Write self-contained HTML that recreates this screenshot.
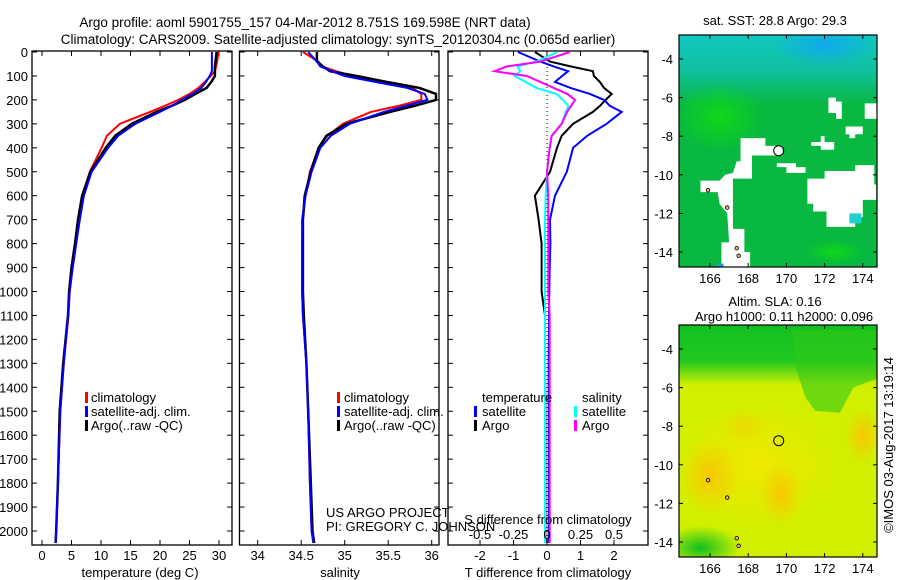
<!DOCTYPE html>
<html><head><meta charset="utf-8">
<style>
html,body{margin:0;padding:0;background:#fff;}
svg{display:block;font-family:"Liberation Sans",sans-serif;}
</style></head>
<body>
<svg id="chart" width="900" height="580" viewBox="0 0 900 580" xmlns="http://www.w3.org/2000/svg">
<defs>
<radialGradient id="g1" cx="50%" cy="50%" r="50%"><stop offset="0" stop-color="#10d818"/><stop offset="1" stop-color="#10d818" stop-opacity="0"/></radialGradient>
<radialGradient id="g2" cx="50%" cy="50%" r="50%"><stop offset="0" stop-color="#10a8f0"/><stop offset="1" stop-color="#10a8f0" stop-opacity="0"/></radialGradient>
<radialGradient id="o1" cx="50%" cy="50%" r="50%"><stop offset="0" stop-color="#f8c800"/><stop offset="1" stop-color="#f8c800" stop-opacity="0"/></radialGradient>
<radialGradient id="y1" cx="50%" cy="50%" r="50%"><stop offset="0" stop-color="#f0e800"/><stop offset="1" stop-color="#f0e800" stop-opacity="0"/></radialGradient>
<radialGradient id="gr2" cx="50%" cy="50%" r="50%"><stop offset="0" stop-color="#10c020"/><stop offset="1" stop-color="#10c020" stop-opacity="0"/></radialGradient>
<linearGradient id="topcyan" x1="0" y1="0" x2="0" y2="1"><stop offset="0" stop-color="#10c8c0"/><stop offset="0.5" stop-color="#10c0a0"/><stop offset="1" stop-color="#10c0a0" stop-opacity="0"/></linearGradient>
<linearGradient id="topgreen" x1="0" y1="0" x2="0" y2="1"><stop offset="0" stop-color="#10c020"/><stop offset="0.6" stop-color="#20c820"/><stop offset="1" stop-color="#20c820" stop-opacity="0"/></linearGradient>
</defs>
<text x="305" y="27" font-size="13.5" text-anchor="middle">Argo profile: aoml 5901755_157 04-Mar-2012 8.751S 169.598E (NRT data)</text>
<text x="338" y="44" font-size="13.5" text-anchor="middle">Climatology: CARS2009. Satellite-adjusted climatology: synTS_20120304.nc (0.065d earlier)</text>
<g id="panels"></g>
<g id="maps"></g>
<text x="326" y="517" font-size="13">US ARGO PROJECT</text>
<text x="326" y="531" font-size="13">PI: GREGORY C. JOHNSON</text>
<text transform="translate(893,445) rotate(-90)" font-size="13" text-anchor="middle">©IMOS 03-Aug-2017 13:19:14</text>
</svg>
<script>
const depths      = [0,40,60,80,100,125,150,175,200,225,250,300,350,400,500,600,700,800,900,1000,1100,1300,1500,1800,2000,2050];
const tempClim    = [29.9,29.7,29.5,29.3,28.6,27.6,26.5,25.0,23.1,20.8,18.3,13.2,11.0,10.1,8.1,6.9,6.3,5.8,5.2,4.7,4.5,3.7,3.1,2.7,2.4,2.3];
const tempSat     = [28.8,28.8,28.8,28.8,28.4,27.8,27.0,25.5,23.7,22.0,20.0,15.8,12.9,11.2,8.4,7.1,6.4,5.8,5.2,4.7,4.4,3.7,3.1,2.7,2.4,2.3];
const tempArgo    = [29.6,29.4,29.3,29.3,29.3,28.7,27.9,26.0,24.2,22.0,19.4,15.2,12.4,10.8,8.2,6.8,6.1,5.6,5.0,4.6,4.4,3.6,3.0,2.7,2.4,2.3];
const salClim     = [34.52,34.70,34.74,34.90,35.08,35.42,35.78,35.88,35.88,35.62,35.30,34.98,34.80,34.70,34.60,34.55,34.52,34.51,34.51,34.51,34.52,34.56,34.58,34.60,34.62,34.64];
const salSat      = [34.58,34.68,34.72,34.85,35.00,35.35,35.72,35.92,35.95,35.70,35.45,35.06,34.84,34.72,34.62,34.55,34.51,34.51,34.51,34.51,34.52,34.56,34.58,34.60,34.62,34.64];
const salArgo     = [34.68,34.68,34.75,34.83,35.14,35.48,35.86,36.05,36.05,35.80,35.52,35.02,34.79,34.70,34.61,34.54,34.52,34.52,34.52,34.52,34.53,34.56,34.58,34.61,34.63,34.65];
const dTSat       = [-0.87,-0.2,0.2,0.63,0.45,0.24,0.7,1.28,1.7,1.88,2.23,1.78,1.2,0.78,0.59,0.24,0.09,0.1,0.08,0.07,0.06,0.05,0.05,0.05,0.05,0.05];
const dTArgo      = [-0.36,0.09,0.7,1.37,1.4,1.58,1.7,1.93,1.75,1.58,1.37,0.78,0.44,0.3,0.09,-0.36,-0.25,-0.16,-0.16,-0.16,-0.06,-0.06,-0.05,-0.05,-0.05,-0.05];
const dSArgo      = [0.17,-0.05,-0.3,-0.39,-0.15,-0.05,0.05,0.15,0.21,0.18,0.15,0.11,0.035,0.02,0.0,0.01,0.01,0.01,0.01,0.01,0.02,0.02,0.02,0.02,0.02,0.02];
const dSSat       = [0.08,-0.08,-0.22,-0.2,-0.24,-0.16,-0.08,0.07,0.12,0.16,0.14,0.11,0.035,0.02,0.0,-0.01,-0.015,-0.015,-0.015,-0.015,-0.015,-0.015,-0.015,-0.015,-0.015,-0.015];
const depthTicks  = [0,100,200,300,400,500,600,700,800,900,1000,1100,1200,1300,1400,1500,1600,1700,1800,1900,2000];
const tempTicks   = [0,5,10,15,20,25,30];
const salTicks    = [34,34.5,35,35.5,36];
const tdTicks     = [-2,-1,0,1,2];
const sdTicks     = [-0.5,-0.25,0,0.25,0.5];
const lonTicks    = [166,168,170,172,174];
const latTicks    = [-4,-6,-8,-10,-12,-14];
const argoLon = 169.598, argoLat = -8.751;

const NS='http://www.w3.org/2000/svg';
function mk(tag,attrs,parent){const e=document.createElementNS(NS,tag);for(const k in attrs)e.setAttribute(k,attrs[k]);parent.appendChild(e);return e;}
const P=document.getElementById('panels');
const yD=d=>52+d*0.2395;
const TOP=51,BOT=545;
const xT=t=>42+t*5.9;
const xS=s=>257.7+(s-34)*87;
const xTD=v=>547+33.5*v;
const xSD=v=>547+134*v;

function frame(x0,x1,name){
  const r=mk('rect',{x:x0,y:TOP,width:x1-x0,height:BOT-TOP,fill:'none',stroke:'#000','stroke-width':1.3},P);
  
  
  depthTicks.forEach(d=>{
    mk('line',{x1:x0,x2:x0+5,y1:yD(d),y2:yD(d),stroke:'#000'},P);
    mk('line',{x1:x1-5,x2:x1,y1:yD(d),y2:yD(d),stroke:'#000'},P);
  });
}
function xticks(vals,fx,labels,y,top){
  vals.forEach((v,i)=>{
    const x=fx(v);
    mk('line',{x1:x,x2:x,y1:BOT-5,y2:BOT,stroke:'#000'},P);
    if(top) mk('line',{x1:x,x2:x,y1:TOP,y2:TOP+5,stroke:'#000'},P);
    const t=mk('text',{x:x,y:y,'font-size':13,'text-anchor':'middle'},P);
    t.textContent=labels?labels[i]:v;
    
    
  });
}
function line(xs,fx,color,name,w){
  const pts=depths.map((d,i)=>fx(xs[i]).toFixed(1)+','+yD(d).toFixed(1)).join(' ');
  const l=mk('polyline',{points:pts,fill:'none',stroke:color,'stroke-width':w||2},P);
  
  
}
function label(x,y,txt,name,anchor){
  const t=mk('text',{x:x,y:y,'font-size':13,'text-anchor':anchor||'start'},P);
  t.textContent=txt;
  
  
  return t;
}
function legMark(x,y,color){mk('rect',{x:x,y:y-10,width:3,height:11,fill:color},P);}

frame(32,232,'temperature-panel');
depthTicks.forEach(d=>label(28,yD(d)+5,String(d),'depth-tick-label','end'));
xticks(tempTicks,xT,null,560,true);
label(140,577,'temperature (deg C)','temperature-axis-title','middle');
line(tempClim,xT,'#f00','temp-climatology-line');
line(tempArgo,xT,'#000','temp-argo-line',2.5);
line(tempSat,xT,'#00f','temp-satellite-line');
legMark(85,402,'#f00');label(91,402,'climatology','legend-climatology');
legMark(85,416,'#00f');label(91,416,'satellite-adj. clim.','legend-satellite');
legMark(85,430,'#000');label(91,430,'Argo(..raw -QC)','legend-argo');

frame(239.5,439,'salinity-panel');
xticks(salTicks,xS,null,560,true);
label(340,577,'salinity','salinity-axis-title','middle');
line(salClim,xS,'#f00','sal-climatology-line');
line(salArgo,xS,'#000','sal-argo-line',2.5);
line(salSat,xS,'#00f','sal-satellite-line');
legMark(337,402,'#f00');label(344,402,'climatology','legend-climatology');
legMark(337,416,'#00f');label(344,416,'satellite-adj. clim.','legend-satellite');
legMark(337,430,'#000');label(344,430,'Argo(..raw -QC)','legend-argo');

frame(448,648,'difference-panel');
sdTicks.forEach(v=>mk('line',{x1:xSD(v),x2:xSD(v),y1:TOP,y2:TOP+5,stroke:'#000'},P));
xticks(tdTicks,xTD,null,560,false);
mk('line',{x1:547,x2:547,y1:TOP,y2:BOT,stroke:'#000','stroke-dasharray':'1,3'},P);
line(dTArgo,xTD,'#000','tdiff-argo-line');
line(dTSat,xTD,'#00f','tdiff-satellite-line');
line(dSSat,xSD,'#0ff','sdiff-satellite-line');
line(dSArgo,xSD,'#f0f','sdiff-argo-line');
label(482,402,'temperature','legend-temperature-heading');
legMark(474,416,'#00f');label(482,416,'satellite','legend-t-satellite');
legMark(474,430,'#000');label(482,430,'Argo','legend-t-argo');
label(582,402,'salinity','legend-salinity-heading');
legMark(574,416,'#0ff');label(582,416,'satellite','legend-s-satellite');
legMark(574,430,'#f0f');label(582,430,'Argo','legend-s-argo');
label(548,524,'S difference from climatology','sdiff-axis-title','middle');
sdTicks.forEach(v=>label(xSD(v),539,String(v),'sdiff-tick-label','middle'));
label(548,577,'T difference from climatology','tdiff-axis-title','middle');

const M=document.getElementById('maps');
const xL=lon=>710+(lon-166)*19.1;
function map(y0,lat4y,lat14y,kind,title1,title2){
  const x0=679,x1=877,y1=y0+232;
  const yL=lat=>lat4y+(lat+4)*(lat14y-lat4y)/(-10);
  const g=mk('g',{},M);
  
  
  const cp='clip'+kind;
  const c=mk('clipPath',{id:cp},g);mk('rect',{x:x0,y:y0,width:x1-x0,height:y1-y0},c);
  const a=mk('g',{'clip-path':'url(#'+cp+')'},g);
  if(kind==='sst'){
    mk('rect',{x:x0,y:y0,width:198,height:232,fill:'#08b840'},a);
    mk('rect',{x:x0,y:y0,width:198,height:70,fill:'url(#topcyan)'},a);
    mk('ellipse',{cx:xL(172),cy:yL(-3.3),rx:50,ry:20,fill:'url(#g2)'},a);
    mk('ellipse',{cx:xL(166.5),cy:yL(-7),rx:45,ry:35,fill:'url(#g1)'},a);
    mk('ellipse',{cx:xL(172.5),cy:yL(-14),rx:30,ry:12,fill:'url(#g1)'},a);
    const white=[
      [[168.6,-8.1],[168.9,-8.1],[168.9,-8.5],[169.8,-8.5],[169.8,-9],[168.2,-9],[168.2,-10.2],[167.2,-10.2],[167.2,-12.8],[167.8,-12.8],[167.8,-14],[168.1,-14],[168.1,-14.8],[166.6,-14.8],[166.6,-13.5],[167,-13.5],[166.9,-12],[166.5,-11.5],[166.4,-10.9],[165.5,-10.9],[165.5,-10.3],[166.5,-10.3],[166.8,-10],[167.2,-9.9],[167.4,-9.3],[167.6,-9.3],[167.6,-8.1]],
      [[169.5,-9.4],[170.5,-9.4],[170.5,-9.6],[171,-9.6],[171,-9.9],[170,-9.9],[170,-9.6],[169.5,-9.6]],
      [[171.1,-10.2],[172,-10.2],[172,-9.8],[173.6,-9.8],[173.6,-9.5],[174.6,-9.5],[174.6,-10.5],[174.7,-10.5],[174.7,-11.3],[174,-11.3],[174,-12.2],[173.6,-12.2],[173.6,-12.7],[172.1,-12.7],[172.1,-11.9],[171.4,-11.9],[171.4,-11.5],[171.1,-11.5]],
      [[172.2,-6.0],[172.6,-6.0],[172.6,-6.2],[172.9,-6.2],[172.9,-7.1],[172.6,-7.1],[172.6,-6.8],[172.2,-6.8]],
      [[174.1,-6.3],[174.8,-6.3],[174.8,-7.1],[174.1,-7.1]],
      [[173.1,-7.5],[174,-7.5],[174,-7.9],[173.6,-7.9],[173.6,-8.1],[173.3,-8.1],[173.3,-7.9],[173.1,-7.9]],
      [[171.8,-8],[172,-8],[172,-8.3],[172.5,-8.3],[172.5,-8.7],[171.8,-8.7],[171.8,-8.5],[171.3,-8.5],[171.3,-8.3],[171.8,-8.3]]
    ];
    white.forEach(p=>mk('polygon',{points:p.map(q=>xL(q[0])+','+yL(q[1])).join(' '),fill:'#fff'},a));
    mk('rect',{x:xL(172.1),y:yL(-11.9),width:xL(173.6)-xL(172.1),height:yL(-11.3)-yL(-12.1),fill:'#10b858'},a);
    mk('rect',{x:xL(173.3),y:yL(-12.0),width:12,height:10,fill:'#20d0d0'},a);
    mk('rect',{x:xL(166.4),y:yL(-14.6),width:6,height:4,fill:'#10a0f0'},a);
  } else {
    mk('rect',{x:x0,y:y0,width:198,height:232,fill:'#d0f000'},a);
    mk('ellipse',{cx:xL(168.5),cy:yL(-10),rx:90,ry:70,fill:'url(#y1)'},a);
    mk('rect',{x:x0,y:y0,width:198,height:60,fill:'url(#topgreen)'},a);
    mk('polygon',{points:[[170.3,-3],[174.8,-3],[174.8,-5.5],[173.5,-6],[172.8,-7.3],[171.5,-7.2],[171,-6.5],[170.5,-5]].map(q=>xL(q[0])+','+yL(q[1])).join(' '),fill:'#30c818',opacity:0.6},a);
    mk('ellipse',{cx:xL(166),cy:yL(-10.6),rx:30,ry:38,fill:'url(#o1)'},a);
    mk('ellipse',{cx:xL(169.7),cy:yL(-11.5),rx:22,ry:32,fill:'url(#o1)'},a);
    mk('ellipse',{cx:xL(174),cy:yL(-8.5),rx:18,ry:28,fill:'url(#o1)'},a);
    mk('ellipse',{cx:xL(167.8),cy:yL(-8),rx:25,ry:18,fill:'url(#o1)',opacity:0.5},a);
    mk('ellipse',{cx:xL(165.5),cy:yL(-14.3),rx:40,ry:22,fill:'url(#gr2)'},a);
  }
  [[165.9,-10.8],[166.9,-11.7],[167.4,-13.8],[167.5,-14.2]].forEach(q=>{
    mk('circle',{cx:xL(q[0]),cy:yL(q[1]),r:1.8,fill:'#f0b080',stroke:'#000','stroke-width':0.8},a);
  });
  mk('rect',{x:x0,y:y0,width:x1-x0,height:y1-y0,fill:'none',stroke:'#000','stroke-width':1.2},g);
  const cc=mk('circle',{cx:xL(argoLon),cy:yL(argoLat),r:5,fill:'none',stroke:'#000','stroke-width':1},g);
  
  
  lonTicks.forEach(v=>{
    mk('line',{x1:xL(v),x2:xL(v),y1:y1,y2:y1-4,stroke:'#000'},g);
    mk('line',{x1:xL(v),x2:xL(v),y1:y0,y2:y0+4,stroke:'#000'},g);
    const t=mk('text',{x:xL(v),y:y1+16,'font-size':13,'text-anchor':'middle'},g);t.textContent=v;
    
    
  });
  latTicks.forEach(v=>{
    mk('line',{x1:x0,x2:x0+4,y1:yL(v),y2:yL(v),stroke:'#000'},g);
    mk('line',{x1:x1-4,x2:x1,y1:yL(v),y2:yL(v),stroke:'#000'},g);
    const t=mk('text',{x:x0-6,y:yL(v)+5,'font-size':13,'text-anchor':'end'},g);t.textContent=v;
    
    
  });
  const t1=mk('text',{x:775,y:title2?y0-19:y0-10,'font-size':13,'text-anchor':'middle'},g);t1.textContent=title1;
  
  
  if(title2){const t2=mk('text',{x:784,y:y0-4,'font-size':13,'text-anchor':'middle'},g);t2.textContent=title2;
    
    }
}
map(35,59,252,'sst','sat. SST: 28.8 Argo: 29.3');
map(325,349,542,'sla','Altim. SLA: 0.16','Argo h1000: 0.11 h2000: 0.096');
</script>
</body></html>
